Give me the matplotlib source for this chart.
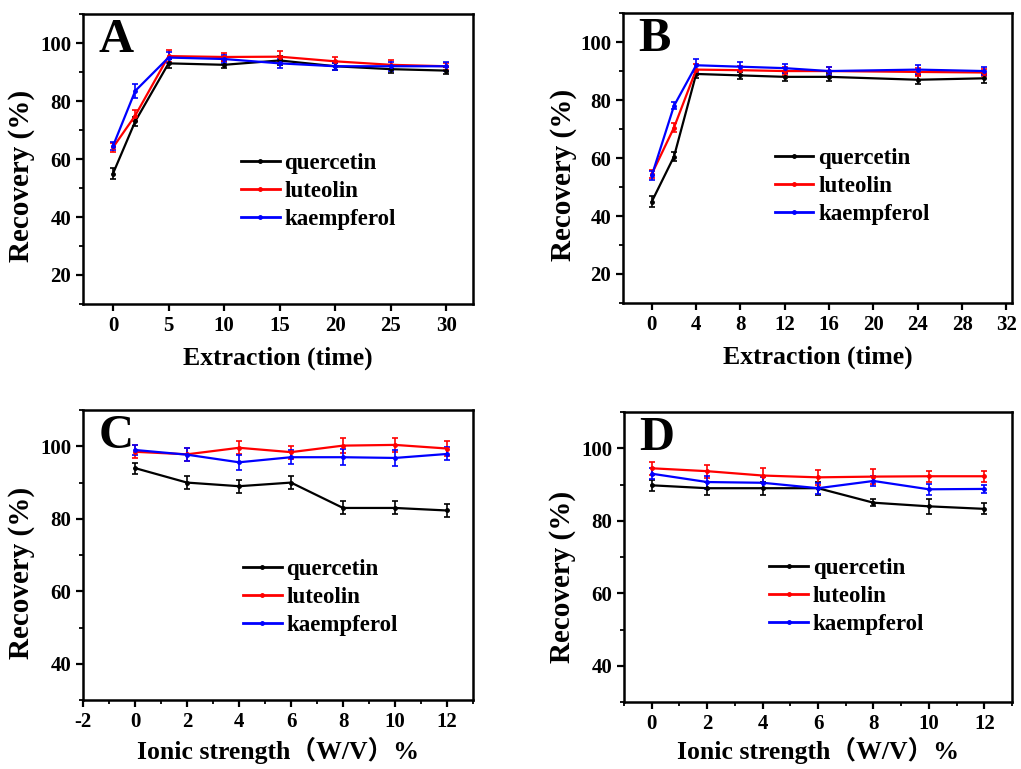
import matplotlib
matplotlib.use("Agg")
import matplotlib.pyplot as plt
from matplotlib.lines import Line2D
from matplotlib.ticker import MultipleLocator

plt.rcParams["font.family"] = ["Liberation Serif", "Noto Sans CJK SC"]
plt.rcParams["font.weight"] = "bold"
plt.rcParams["axes.unicode_minus"] = False

SERIES = ["quercetin", "luteolin", "kaempferol"]
COLORS = ["black", "#ff0000", "#0000ff"]

# panel A: extraction time
a_x = [0, 2, 5, 10, 15, 20, 25, 30]
a_quercetin = [55.0, 73.0, 93.0, 92.5, 94.0, 92.0, 91.0, 90.5]
a_luteolin = [64.0, 75.0, 95.5, 95.2, 95.3, 93.7, 92.5, 92.0]
a_kaempferol = [64.5, 83.5, 95.0, 94.5, 93.0, 92.0, 92.0, 92.0]
a_err_q = [1.8, 1.5, 1.5, 1.2, 1.5, 1.2, 1.2, 1.2]
a_err_l = [1.5, 2.0, 2.0, 1.5, 1.8, 1.5, 1.5, 1.2]
a_err_k = [1.5, 2.5, 2.0, 1.5, 1.5, 1.2, 1.5, 1.5]

# panel B: extraction time
b_x = [0, 2, 4, 8, 12, 16, 24, 30]
b_quercetin = [45.0, 60.5, 89.0, 88.5, 88.0, 88.0, 87.0, 87.5]
b_luteolin = [54.5, 70.5, 90.5, 90.3, 90.0, 90.0, 89.7, 89.5]
b_kaempferol = [54.0, 78.0, 92.0, 91.5, 91.0, 90.0, 90.5, 90.0]
b_err_q = [1.8, 1.5, 1.5, 1.2, 1.5, 1.5, 1.5, 1.5]
b_err_l = [1.5, 1.5, 2.0, 1.5, 1.5, 1.5, 1.5, 1.2]
b_err_k = [1.5, 1.2, 2.2, 1.5, 1.5, 1.5, 1.5, 1.5]

# panels C and D: ionic strength
cd_x = [0, 2, 4, 6, 8, 10, 12]
c_quercetin = [94.0, 90.0, 89.0, 90.0, 83.0, 83.0, 82.3]
c_luteolin = [98.5, 97.8, 99.6, 98.4, 100.2, 100.4, 99.4]
c_kaempferol = [99.0, 97.7, 95.6, 97.0, 97.0, 96.8, 97.9]
c_err_q = [1.5, 1.8, 1.8, 1.8, 1.8, 1.8, 1.8]
c_err_l = [1.8, 1.8, 1.8, 1.8, 2.0, 2.0, 2.2]
c_err_k = [1.5, 1.8, 2.0, 2.0, 2.2, 2.2, 1.8]

d_quercetin = [89.8, 89.0, 89.0, 89.0, 85.0, 84.0, 83.3]
d_luteolin = [94.5, 93.7, 92.5, 92.0, 92.2, 92.3, 92.3]
d_kaempferol = [93.0, 90.7, 90.5, 89.0, 91.0, 88.7, 88.8]
d_err_q = [1.5, 1.8, 1.8, 1.8, 1.0, 2.0, 1.5]
d_err_l = [1.8, 1.8, 2.0, 2.0, 2.0, 1.5, 1.5]
d_err_k = [1.5, 1.8, 1.5, 1.5, 1.5, 1.5, 1.0]

panels = [
    ("A", a_x, [a_quercetin, a_luteolin, a_kaempferol], [a_err_q, a_err_l, a_err_k]),
    ("B", b_x, [b_quercetin, b_luteolin, b_kaempferol], [b_err_q, b_err_l, b_err_k]),
    ("C", cd_x, [c_quercetin, c_luteolin, c_kaempferol], [c_err_q, c_err_l, c_err_k]),
    ("D", cd_x, [d_quercetin, d_luteolin, d_kaempferol], [d_err_q, d_err_l, d_err_k]),
]

rects = {
    "A": [0.0813, 0.6047, 0.382, 0.377],
    "B": [0.6102, 0.6060, 0.381, 0.377],
    "C": [0.0813, 0.0897, 0.382, 0.377],
    "D": [0.6112, 0.0871, 0.380, 0.377],
}
xlims = {"A": (-2.7, 32.4), "B": (-2.6, 32.5), "C": (-2.0, 13.0), "D": (-1.0, 13.0)}
xmajor = {"A": 5, "B": 4, "C": 2, "D": 2}
ylims = {"A": (10, 110), "B": (10, 110), "C": (30, 110), "D": (30, 110)}
xlabels = {
    "A": "Extraction (time)",
    "B": "Extraction (time)",
    "C": "Ionic strength（W/V）%",
    "D": "Ionic strength（W/V）%",
}
xlabelpad = {"A": 8, "B": 8, "C": 4, "D": 2}
ylabel_pos = {"A": (-0.123, 0.44), "B": (-0.118, 0.44), "C": (-0.123, 0.438), "D": (-0.124, 0.43)}
legend_anchor = {"A": (0.375, 0.56), "B": (0.36, 0.575), "C": (0.38, 0.525), "D": (0.345, 0.535)}

fig = plt.figure(figsize=(10.21, 7.69), dpi=100)

for name, xs, ys_list, errs in panels:
    ax = fig.add_axes(rects[name])
    handles = []
    for label, ys, err, color in zip(SERIES, ys_list, errs, COLORS):
        ax.errorbar(xs, ys, yerr=err, color=color, lw=1.6, marker="o", ms=2.5,
                    capsize=2.5, elinewidth=1.2, capthick=1.2)
        handles.append(Line2D([], [], color=color, lw=2.0, marker="o", ms=2.5, label=label))
    ax.set_xlim(*xlims[name])
    ax.set_ylim(*ylims[name])
    ax.xaxis.set_major_locator(MultipleLocator(xmajor[name]))
    if name in ("C", "D"):
        ax.xaxis.set_minor_locator(MultipleLocator(1))
    ax.yaxis.set_minor_locator(MultipleLocator(10))
    ax.set_yticks([t for t in range(20, 101, 20) if t > ylims[name][0]])
    for s in ax.spines.values():
        s.set_linewidth(1.8)
    ax.tick_params(which="major", direction="out", length=5, width=1.6, labelsize=15)
    ax.tick_params(which="minor", direction="out", length=3, width=1.3)
    for t in ax.get_xticklabels() + ax.get_yticklabels():
        t.set_fontweight("bold")
    ax.set_xlabel(xlabels[name], fontsize=18.5, fontweight="bold", labelpad=xlabelpad[name])
    ax.set_ylabel("Recovery (%)", fontsize=21, fontweight="bold")
    ax.yaxis.set_label_coords(*ylabel_pos[name])
    ax.text(0.04, 0.985, name, transform=ax.transAxes, fontsize=35,
            fontweight="bold", va="top", ha="left")
    ax.legend(handles=handles, loc="upper left", bbox_to_anchor=legend_anchor[name],
              frameon=False, prop={"size": 16.5, "weight": "bold"}, handlelength=1.7,
              handletextpad=0.2, labelspacing=0.3, borderpad=0)

fig.savefig("out.png", dpi=100)
